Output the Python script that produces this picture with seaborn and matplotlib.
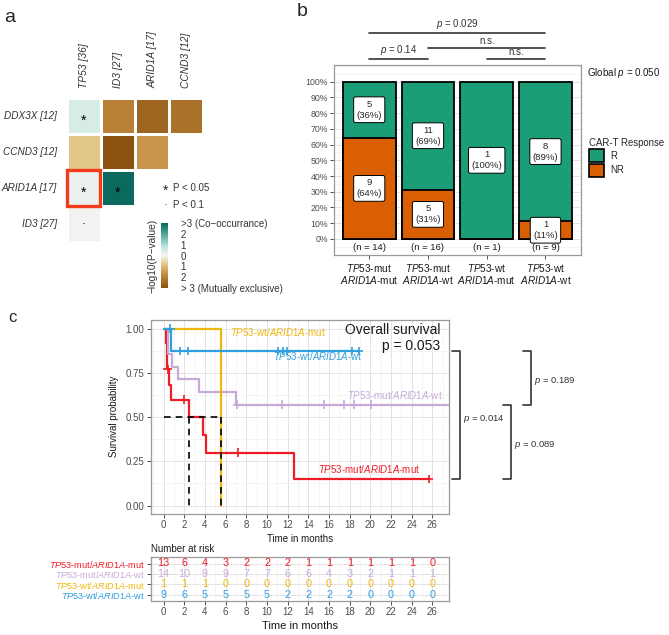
import numpy as np
import pandas as pd
import matplotlib
matplotlib.use("Agg")
import matplotlib.pyplot as plt
import matplotlib.transforms as mtransforms
from matplotlib.colors import LinearSegmentedColormap
from matplotlib.patches import Patch, Rectangle
from matplotlib.ticker import MultipleLocator, FixedLocator, FuncFormatter
import seaborn as sns

sns.set_theme(style="white")
plt.rcParams['font.family'] = ['Liberation Sans', 'DejaVu Sans']
plt.rcParams['mathtext.fontset'] = 'custom'
plt.rcParams['mathtext.rm'] = 'Liberation Sans'
plt.rcParams['mathtext.it'] = 'Liberation Sans:italic'

# ---------------- data: panel a (somatic interactions)
hm_rows = ["DDX3X [12]", "CCND3 [12]", "ARID1A [17]", "ID3 [27]"]
hm_cols = ["TP53 [36]", "ID3 [27]", "ARID1A [17]", "CCND3 [12]"]
hm_ddx3x = [0.45, -2.0, -2.6, -2.3]
hm_ccnd3 = [-0.8, -3.0, -1.6, np.nan]
hm_arid1a = [0.15, 3.0, np.nan, np.nan]
hm_id3 = [0.03, np.nan, np.nan, np.nan]
hm_sig = [["*", "", "", ""],
          ["", "", "", ""],
          ["*", "*", "", ""],
          ["\u00b7", "", "", ""]]
cbar_ticks = [3, 2, 1, 0, -1, -2, -3]
cbar_labels = [">3 (Co\u2212occurrance)", "2", "1", "0", "1", "2", "> 3 (Mutually exclusive)"]

# ---------------- data: panel b (response by genotype)
resp_groups = ["$\\it{TP53}$-mut\n$\\it{ARID1A}$-mut", "$\\it{TP53}$-mut\n$\\it{ARID1A}$-wt",
               "$\\it{TP53}$-wt\n$\\it{ARID1A}$-mut", "$\\it{TP53}$-wt\n$\\it{ARID1A}$-wt"]
r_counts = [5, 11, 1, 8]
nr_counts = [9, 5, 0, 1]
# comparisons: (group i, group j, label)
comparisons = [(0, 3, "$\\it{p}$ = 0.029"), (1, 3, "n.s."), (0, 1, "$\\it{p}$ = 0.14"), (2, 3, "n.s.")]
comp_levels = [1.31, 1.216, 1.142, 1.142]

# ---------------- data: panel c (Kaplan-Meier)
km_groups = ["TP53-mut/ARID1A-mut", "TP53-mut/ARID1A-wt", "TP53-wt/ARID1A-mut", "TP53-wt/ARID1A-wt"]
km_labels = ["$\\it{TP53}$-mut/$\\it{ARID1A}$-mut", "$\\it{TP53}$-mut/$\\it{ARID1A}$-wt",
             "$\\it{TP53}$-wt/$\\it{ARID1A}$-mut", "$\\it{TP53}$-wt/$\\it{ARID1A}$-wt"]
km_colors = ["#EE1C25", "#C8AAD9", "#EFB80C", "#2E9FDF"]

red_t = [0, 0.26, 0.30, 0.34, 0.48, 0.71, 2.42, 3.85, 4.05, 12.65, 25.65]
red_s = [1.00, 0.92, 0.85, 0.77, 0.68, 0.60, 0.50, 0.40, 0.30, 0.15, 0.15]
red_cens_t = [0.40, 2.0, 7.2, 25.65]
red_cens_s = [0.77, 0.60, 0.30, 0.15]

purple_t = [0, 0.40, 0.80, 1.40, 3.40, 7.00, 27.6]
purple_s = [1.00, 0.857, 0.786, 0.714, 0.643, 0.571, 0.571]
purple_cens_t = [7.1, 11.45, 15.5, 17.4, 18.4, 20.05]
purple_cens_s = [0.571, 0.571, 0.571, 0.571, 0.571, 0.571]

orange_t = [0, 5.58]
orange_s = [1.00, 0.00]
orange_cens_t = []
orange_cens_s = []

blue_t = [0, 0.74, 18.9]
blue_s = [1.00, 0.875, 0.875]
blue_cens_t = [0.65, 1.55, 2.4, 11.05, 11.5, 11.9, 18.2, 18.9]
blue_cens_s = [1.00, 0.875, 0.875, 0.875, 0.875, 0.875, 0.875, 0.875]

median_times = [2.42, 5.58]
pair_p = [(3, 0, "$\\it{p}$ = 0.014"), (1, 0, "$\\it{p}$ = 0.089"), (3, 1, "$\\it{p}$ = 0.189")]

risk_times = [0, 2, 4, 6, 8, 10, 12, 14, 16, 18, 20, 22, 24, 26]
risk_red = [13, 6, 4, 3, 2, 2, 2, 1, 1, 1, 1, 1, 1, 0]
risk_purple = [14, 10, 9, 9, 7, 7, 6, 6, 4, 3, 2, 1, 1, 1]
risk_orange = [1, 1, 1, 0, 0, 0, 0, 0, 0, 0, 0, 0, 0, 0]
risk_blue = [9, 6, 5, 5, 5, 5, 2, 2, 2, 2, 0, 0, 0, 0]

GRID_MAJ = "#e3e3e3"
GRID_MIN = "#f0f0f0"
BORDER = "#9a9a9a"

fig = plt.figure(figsize=(6.69, 6.35), dpi=100)
W, H = 669.0, 635.0


def fbox(x0, x1, y0, y1):
    # pixel box (top-left origin) -> figure fraction rect
    return [x0 / W, 1 - y1 / H, (x1 - x0) / W, (y1 - y0) / H]


def light_panel(ax):
    for s in ax.spines.values():
        s.set_visible(True)
        s.set_color(BORDER)
        s.set_linewidth(0.9)
    ax.tick_params(axis="both", which="major", length=3, width=0.6, color="#333333",
                   labelsize=7, labelcolor="#4d4d4d", pad=1.5, left=True, bottom=True)
    ax.tick_params(axis="both", which="minor", length=0)
    ax.grid(True, which="major", color=GRID_MAJ, lw=0.7)
    ax.grid(True, which="minor", color=GRID_MIN, lw=0.5)
    ax.set_axisbelow(True)


# ======================= panel a
ax_a = fig.add_axes(fbox(66.7, 203.3, 97.7, 241.7))
cax = fig.add_axes(fbox(160.7, 168.3, 223, 288))
hm_df = pd.DataFrame([hm_ddx3x, hm_ccnd3, hm_arid1a, hm_id3], index=hm_rows, columns=hm_cols)
cmap = LinearSegmentedColormap.from_list(
    "brbg", [(0.0, "#8c5210"), (0.2, "#c08a3c"), (0.36, "#e2c585"), (0.5, "#f4f4f2"),
             (0.64, "#bfe5de"), (0.8, "#5fb0a4"), (1.0, "#0a6a5e")])
sns.heatmap(hm_df, ax=ax_a, cmap=cmap, vmin=-3, vmax=3, cbar_ax=cax,
            linewidths=0.8, linecolor="white")
for i in range(len(hm_rows)):
    for j in range(len(hm_cols)):
        if hm_sig[i][j]:
            dy = 0.13 if hm_sig[i][j] == "*" else 0.0
            ax_a.text(j + 0.5, i + 0.5 + dy, hm_sig[i][j], ha="center", va="center",
                      fontsize=10 if hm_sig[i][j] == "*" else 9, color="black")
ax_a.add_patch(Rectangle((0.02, 2.0), 0.96, 1.0, fill=False, edgecolor="#F23D1D", lw=2.4,
                         clip_on=False, zorder=5))
ax_a.xaxis.tick_top()
ax_a.set_xticklabels(hm_cols, rotation=90, fontstyle="italic", fontsize=7.4, color="#333333")
ax_a.set_yticklabels(hm_rows, rotation=0, fontstyle="italic", fontsize=7.2, color="#333333")
ax_a.tick_params(length=0, pad=7)
ax_a.set_xlabel("")
ax_a.set_ylabel("")

cbar = ax_a.collections[0].colorbar
cbar.set_ticks(cbar_ticks)
cbar.set_ticklabels(cbar_labels)
cbar.outline.set_visible(False)
cax.tick_params(labelsize=7, length=2, color="white", direction="in", pad=9, labelcolor="#333333")
cbar.set_label("\u2212log10(P\u2212value)", fontsize=7.3, color="#333333", labelpad=2)
cax.yaxis.set_label_position("left")

fig.text(166 / W, 1 - 191 / H, "*", ha="center", va="center", fontsize=10)
fig.text(173.3 / W, 1 - 188 / H, "P < 0.05", ha="left", va="center", fontsize=7, color="#333333")
fig.text(166 / W, 1 - 205 / H, "\u00b7", ha="center", va="center", fontsize=9)
fig.text(173.3 / W, 1 - 205 / H, "P < 0.1", ha="left", va="center", fontsize=7, color="#333333")

# ======================= panel b
ax_b = fig.add_axes(fbox(334, 580.7, 65.3, 255))
tot = [r + n for r, n in zip(r_counts, nr_counts)]
b_df = pd.DataFrame({"group": resp_groups,
                     "all": [1.0] * len(tot),
                     "nr": [n / t for n, t in zip(nr_counts, tot)]})
light_panel(ax_b)
ax_b.grid(False, axis="x", which="both")
sns.barplot(data=b_df, x="group", y="all", color="#1B9E77", saturation=1, width=0.9,
            edgecolor="black", linewidth=1.3, ax=ax_b, zorder=2)
sns.barplot(data=b_df, x="group", y="nr", color="#D95F02", saturation=1, width=0.9,
            edgecolor="black", linewidth=1.3, ax=ax_b, zorder=2)
ax_b.set_xlim(-0.6, 3.6)
ax_b.set_ylim(-0.102, 1.104)
ax_b.yaxis.set_major_locator(FixedLocator(np.linspace(0, 1, 11)))
ax_b.yaxis.set_minor_locator(FixedLocator(np.linspace(-0.1, 1.1, 25)))
ax_b.yaxis.set_major_formatter(FuncFormatter(lambda v, p: f"{v * 100:.0f}%"))
ax_b.set_xlabel("")
ax_b.set_ylabel("")
ax_b.tick_params(axis="x", labelsize=7.2, labelcolor="#1a1a1a", length=3, pad=2)
ax_b.tick_params(axis="y", labelsize=6.3)
for lbl in ax_b.get_xticklabels():
    lbl.set_linespacing(1.0)
box = dict(boxstyle="round,pad=0.3,rounding_size=0.2", fc="white", ec="black", lw=0.7)
for i in range(len(tot)):
    fr_nr = nr_counts[i] / tot[i]
    if r_counts[i]:
        ax_b.text(i, fr_nr + (1 - fr_nr) / 2, f"{r_counts[i]}\n({round(100 * r_counts[i] / tot[i])}%)",
                  ha="center", va="center", fontsize=6.8, bbox=box, zorder=4, linespacing=1.3)
    if nr_counts[i]:
        ax_b.text(i, fr_nr / 2, f"{nr_counts[i]}\n({round(100 * fr_nr)}%)",
                  ha="center", va="center", fontsize=6.8, bbox=box, zorder=4, linespacing=1.3)
    ax_b.text(i, -0.053, f"(n = {tot[i]})", ha="center", va="center", fontsize=6.8,
              color="#1a1a1a", zorder=3)
for (g1, g2, lab), lv in zip(comparisons, comp_levels):
    ax_b.plot([g1, g2], [lv, lv], color="#333333", lw=1.2, clip_on=False)
    ax_b.text((g1 + g2) / 2, lv + 0.012, lab, ha="center", va="bottom", fontsize=7,
              color="#333333", clip_on=False)
fig.text(586.7 / W, 1 - 73.3 / H, "Global $\\it{p}$ = 0.050", ha="left", va="center",
         fontsize=7, color="#1a1a1a")
leg = ax_b.legend(handles=[Patch(fc="#1B9E77", ec="black", lw=1.2),
                           Patch(fc="#D95F02", ec="black", lw=1.2)],
                  labels=["R", "NR"], title="CAR-T Response", frameon=False,
                  loc="upper left", bbox_to_anchor=(589 / W, 1 - 138 / H),
                  bbox_transform=fig.transFigure, fontsize=6.9, title_fontsize=6.9,
                  handlelength=1.6, handleheight=1.7, labelspacing=0.15, handletextpad=0.6,
                  borderpad=0.0, borderaxespad=0.0)
leg._legend_box.align = "left"

# ======================= panel c
ax_c = fig.add_axes(fbox(150.7, 449, 320, 513.5))
light_panel(ax_c)
km_df = pd.concat([
    pd.DataFrame({"time": t, "surv": s, "group": g})
    for t, s, g in zip([red_t, purple_t, orange_t, blue_t], [red_s, purple_s, orange_s, blue_s], km_groups)
])
cens_df = pd.concat([
    pd.DataFrame({"time": t, "surv": s, "group": g})
    for t, s, g in zip([red_cens_t, purple_cens_t, orange_cens_t, blue_cens_t],
                       [red_cens_s, purple_cens_s, orange_cens_s, blue_cens_s], km_groups)
])
pal = dict(zip(km_groups, km_colors))
sns.lineplot(data=km_df, x="time", y="surv", hue="group", hue_order=km_groups, palette=pal,
             estimator=None, sort=False, drawstyle="steps-post", linewidth=1.6, legend=False,
             ax=ax_c, zorder=3)
sns.scatterplot(data=cens_df, x="time", y="surv", hue="group", hue_order=km_groups, palette=pal,
                marker="+", s=40, linewidth=1.2, legend=False, ax=ax_c, zorder=3)
ax_c.plot([0, median_times[-1]], [0.5, 0.5], color="black", ls=(0, (4, 3)), lw=1.2, zorder=4)
for mt in median_times:
    ax_c.plot([mt, mt], [0.5, 0], color="black", ls=(0, (4, 3)), lw=1.2, zorder=4)
ax_c.set_xlim(-1.25, 27.6)
ax_c.set_ylim(-0.045, 1.05)
ax_c.xaxis.set_major_locator(MultipleLocator(2))
ax_c.xaxis.set_minor_locator(MultipleLocator(1))
ax_c.yaxis.set_major_locator(MultipleLocator(0.25))
ax_c.yaxis.set_minor_locator(MultipleLocator(0.125))
ax_c.yaxis.set_major_formatter(FuncFormatter(lambda v, p: f"{v:.2f}"))
ax_c.set_xlabel("Time in months", fontsize=7, color="#1a1a1a", labelpad=3)
ax_c.set_ylabel("Survival probability", fontsize=7, color="#1a1a1a", labelpad=5)

ax_c.text(6.44, 0.983, km_labels[2], color=km_colors[2], fontsize=7, ha="left", va="center")
ax_c.text(19.2, 0.845, km_labels[3], color=km_colors[3], fontsize=7, ha="right", va="center")
ax_c.text(26.97, 0.627, km_labels[1], color=km_colors[1], fontsize=7, ha="right", va="center")
ax_c.text(24.85, 0.208, km_labels[0], color=km_colors[0], fontsize=7, ha="right", va="center")
ax_c.text(0.97, 0.95, "Overall survival", transform=ax_c.transAxes, fontsize=10,
          ha="right", va="center", color="#1a1a1a")
ax_c.text(0.97, 0.867, "p = 0.053", transform=ax_c.transAxes, fontsize=10,
          ha="right", va="center", color="#1a1a1a")

# pairwise brackets at the final survival levels
final_s = [red_s[-1], purple_s[-1], orange_s[-1], blue_s[-1]]
trans = mtransforms.blended_transform_factory(ax_c.transAxes, ax_c.transData)
bx = [(1.011, 1.037), (1.18, 1.207), (1.249, 1.275)]
for (g1, g2, lab), (x0, x1) in zip(pair_p, bx):
    y1, y2 = final_s[g1], final_s[g2]
    ax_c.plot([x0, x1, x1, x0], [y1, y1, y2, y2], color="#333333", lw=1.2,
              transform=trans, clip_on=False)
    ax_c.text(x1 + 0.01, (y1 + y2) / 2 - 0.02, lab, transform=trans, fontsize=6.8,
              ha="left", va="center", color="#333333")

# ======================= risk table
ax_r = fig.add_axes(fbox(150.7, 449, 557.3, 600.7))
light_panel(ax_r)
risk_rows = [risk_red, risk_purple, risk_orange, risk_blue]
for i, (row, col) in enumerate(zip(risk_rows, km_colors)):
    for t, n in zip(risk_times, row):
        ax_r.text(t, i, str(n), color=col, ha="center", va="center", fontsize=7.8)
ax_r.set_xlim(-1.25, 27.6)
ax_r.set_ylim(3.6, -0.6)
ax_r.xaxis.set_major_locator(MultipleLocator(2))
ax_r.xaxis.set_minor_locator(MultipleLocator(1))
ax_r.set_yticks(range(len(km_labels)))
ax_r.set_yticklabels(km_labels, fontsize=6.6)
for lbl, col in zip(ax_r.get_yticklabels(), km_colors):
    lbl.set_color(col)
ax_r.set_xlabel("Time in months", fontsize=8, color="#1a1a1a", labelpad=3)
fig.text(150.7 / W, 1 - 549 / H, "Number at risk", ha="left", va="center", fontsize=7,
         color="#1a1a1a")

# panel letters
fig.text(10 / W, 1 - 18 / H, "a", fontsize=14, ha="center", va="center")
fig.text(302 / W, 1 - 12 / H, "b", fontsize=14, ha="center", va="center")
fig.text(12 / W, 1 - 318 / H, "c", fontsize=12, ha="center", va="center")

fig.savefig("out.png", dpi=100)
